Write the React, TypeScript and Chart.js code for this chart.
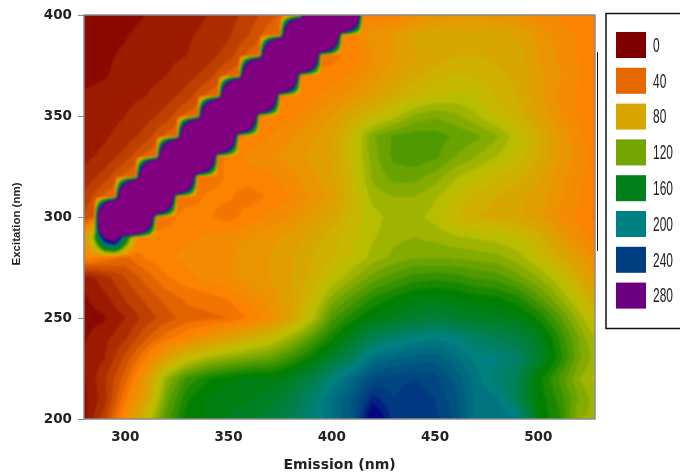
import React, { useEffect, useRef } from "react";
import { Chart, registerables } from "chart.js";

Chart.register(...registerables);

const emission = [280, 290, 300, 310, 320, 330, 340, 350, 360, 370, 380, 390, 400, 410, 420, 430, 440, 450, 460, 470, 480, 490, 500, 510, 520, 530];
const excitation = [400, 390, 380, 370, 360, 350, 340, 330, 320, 310, 300, 290, 280, 270, 260, 250, 240, 230, 220, 210, 200];

const ex400 = [4, 4, 5, 7, 9, 11, 14, 18, 24, 32, 40, 44, 46, 48, 50, 52, 60, 65, 68, 68, 66, 62, 58, 55, 50, 48];
const ex390 = [4, 5, 6.5, 9, 11, 13, 16, 20, 28, 40, 44, 46, 48, 50, 68, 70, 78, 82, 80, 80, 80, 76, 68, 60, 55, 50];
const ex380 = [5, 6, 8, 10, 12, 14, 18, 24, 38, 44, 46, 46, 46, 52, 62, 70, 76, 80, 84, 84, 82, 80, 70, 62, 55, 50];
const ex370 = [5, 6.5, 9, 11, 14, 18, 24, 38, 44, 46, 46, 50, 52, 58, 66, 74, 82, 88, 92, 90, 86, 82, 72, 64, 56, 50];
const ex360 = [8, 9, 12, 14, 18, 24, 38, 44, 46, 46, 50, 54, 60, 66, 74, 84, 92, 98, 100, 98, 90, 84, 72, 62, 54, 50];
const ex350 = [9, 11, 14, 18, 24, 38, 44, 46, 46, 50, 54, 62, 70, 82, 92, 102, 114, 118, 114, 106, 96, 88, 76, 64, 54, 48];
const ex340 = [10, 13, 17, 24, 38, 44, 46, 46, 50, 56, 62, 68, 76, 94, 118, 127, 130, 129, 125, 121, 113, 100, 86, 70, 58, 48];
const ex330 = [12, 16, 24, 38, 44, 46, 46, 50, 58, 62, 66, 72, 78, 96, 116, 128, 131, 128, 119, 112, 105, 96, 84, 70, 60, 48];
const ex320 = [16, 24, 38, 44, 46, 46, 46, 50, 52, 54, 60, 68, 76, 92, 114, 122, 122, 116, 106, 100, 92, 86, 78, 66, 58, 48];
const ex310 = [22, 38, 44, 44, 46, 46, 50, 50, 46, 50, 56, 64, 72, 92, 108, 112, 112, 106, 98, 88, 84, 80, 74, 64, 56, 48];
const ex300 = [30, 40, 44, 44, 46, 52, 50, 46, 52, 58, 62, 72, 80, 92, 102, 108, 108, 102, 92, 84, 82, 78, 72, 62, 54, 46];
const ex290 = [60, 180, 70, 50, 52, 54, 58, 60, 64, 68, 72, 80, 88, 96, 104, 110, 112, 110, 106, 104, 102, 98, 88, 72, 60, 50];
const ex280 = [55, 48, 40, 50, 55, 58, 60, 62, 66, 70, 76, 84, 90, 98, 108, 114, 118, 118, 118, 116, 114, 108, 98, 84, 72, 54];
const ex270 = [10, 18, 28, 38, 48, 54, 58, 62, 66, 70, 76, 86, 98, 110, 122, 130, 136, 138, 136, 132, 130, 122, 112, 100, 82, 66];
const ex260 = [6, 12, 22, 30, 38, 44, 46, 50, 58, 66, 76, 92, 114, 128, 140, 148, 154, 156, 154, 150, 148, 142, 128, 112, 96, 76];
const ex250 = [4, 6, 14, 24, 32, 38, 40, 42, 50, 60, 78, 100, 130, 144, 156, 162, 168, 172, 168, 164, 162, 158, 146, 128, 108, 92];
const ex240 = [6, 12, 20, 34, 46, 56, 66, 76, 86, 96, 110, 128, 146, 164, 182, 192, 198, 202, 198, 188, 182, 176, 162, 140, 118, 100];
const ex230 = [8, 14, 30, 50, 76, 96, 108, 114, 120, 124, 136, 150, 168, 185, 210, 216, 220, 222, 212, 200, 198, 190, 168, 144, 120, 106];
const ex220 = [6, 20, 38, 68, 112, 135, 146, 152, 156, 156, 162, 176, 196, 214, 232, 236, 238, 234, 222, 206, 192, 182, 150, 132, 112, 100];
const ex210 = [5, 18, 48, 76, 122, 146, 155, 158, 160, 165, 175, 190, 210, 225, 248, 238, 242, 238, 226, 208, 205, 180, 152, 138, 118, 106];
const ex200 = [4, 26, 58, 96, 130, 150, 155, 162, 165, 172, 180, 195, 210, 225, 265, 242, 244, 240, 230, 205, 210, 205, 154, 142, 112, 110];

const intensity = [ex400, ex390, ex380, ex370, ex360, ex350, ex340, ex330, ex320, ex310, ex300, ex290, ex280, ex270, ex260, ex250, ex240, ex230, ex220, ex210, ex200];

// Scatter ridge: for each excitation, the two off-scale emission readings (nm) and their height
const ridgeExcitation = [400, 390, 380, 370, 360, 350, 340, 330, 320, 310, 300, 290];
const ridgeFirst = [395, 385, 375, 365, 355, 345, 335, 325, 315, 305, 295, 295];
const ridgeSecond = [405, 395, 385, 375, 365, 355, 345, 335, 325, 315, 305, 295];
const ridgeHeight = [1400, 1400, 1400, 1400, 1400, 1400, 1400, 1400, 1400, 1400, 1400, 220];

const xTicks = [300, 350, 400, 450, 500];
const yTicks = [200, 250, 300, 350, 400];
const legendLevels = [0, 40, 80, 120, 160, 200, 240, 280];

const stopValues = [0, 50, 100, 150, 200, 240, 258, 280, 284];
const stopColors = [
  [128, 0, 0], [255, 128, 0], [191, 191, 0], [0, 128, 0], [0, 128, 128],
  [0, 62, 130], [0, 0, 128], [106, 0, 127], [128, 0, 128],
];

const BAND = 7;

function colorFor(v: number): number[] {
  if (v <= stopValues[0]) return stopColors[0];
  for (let i = 1; i < stopValues.length; i++) {
    if (v <= stopValues[i]) {
      const t = (v - stopValues[i - 1]) / (stopValues[i] - stopValues[i - 1]);
      const a = stopColors[i - 1];
      const b = stopColors[i];
      return [a[0] + (b[0] - a[0]) * t, a[1] + (b[1] - a[1]) * t, a[2] + (b[2] - a[2]) * t];
    }
  }
  return stopColors[stopColors.length - 1];
}

function ridgeNode(em: number, rowEx: number): number {
  const r = ridgeExcitation.indexOf(rowEx);
  if (r < 0) return 0;
  return em === ridgeFirst[r] || em === ridgeSecond[r] ? ridgeHeight[r] : 0;
}

// ridge readings sit on a grid offset by 5 nm in emission
function sampleRidge(em: number, ex: number): number {
  const e0 = Math.floor((em - 5) / 10) * 10 + 5;
  const r0 = Math.floor(ex / 10) * 10;
  const u = (em - e0) / 10;
  const w = (ex - r0) / 10;
  return (
    ridgeNode(e0, r0) * (1 - u) * (1 - w) +
    ridgeNode(e0 + 10, r0) * u * (1 - w) +
    ridgeNode(e0, r0 + 10) * (1 - u) * w +
    ridgeNode(e0 + 10, r0 + 10) * u * w
  );
}

function sample(em: number, ex: number): number {
  const fx = Math.min(emission.length - 1.001, Math.max(0, (em - emission[0]) / 10));
  const fy = Math.min(excitation.length - 1.001, Math.max(0, (excitation[0] - ex) / 10));
  const i = Math.floor(fx);
  const j = Math.floor(fy);
  const u = fx - i;
  const w = fy - j;
  const base =
    intensity[j][i] * (1 - u) * (1 - w) +
    intensity[j][i + 1] * u * (1 - w) +
    intensity[j + 1][i] * (1 - u) * w +
    intensity[j + 1][i + 1] * u * w;
  return base + sampleRidge(em, ex);
}

const contourPlugin = {
  id: "contourFill",
  beforeDatasetsDraw(chart: any) {
    const { ctx, chartArea: a, scales } = chart;
    const w = Math.round(a.right - a.left);
    const h = Math.round(a.bottom - a.top);
    const off = document.createElement("canvas");
    off.width = w;
    off.height = h;
    const oc = off.getContext("2d")!;
    const img = oc.createImageData(w, h);
    for (let py = 0; py < h; py++) {
      const ex = scales.y.getValueForPixel(a.top + py + 0.5);
      for (let px = 0; px < w; px++) {
        const em = scales.x.getValueForPixel(a.left + px + 0.5);
        const v = sample(em, ex);
        const band = v >= 280 ? 300 : Math.floor(v / BAND) * BAND + BAND / 2;
        const c = colorFor(band);
        const k = (py * w + px) * 4;
        img.data[k] = c[0];
        img.data[k + 1] = c[1];
        img.data[k + 2] = c[2];
        img.data[k + 3] = 255;
      }
    }
    oc.putImageData(img, 0, 0);
    ctx.save();
    ctx.beginPath();
    ctx.rect(a.left, a.top, w, h);
    ctx.clip();
    ctx.drawImage(off, a.left, a.top);
    ctx.filter = "blur(0.8px)";
    ctx.drawImage(off, a.left, a.top);
    ctx.restore();
  },
  afterDraw(chart: any) {
    const { ctx, chartArea: a } = chart;
    ctx.save();
    ctx.strokeStyle = "#8a8a8a";
    ctx.lineWidth = 1.5;
    ctx.strokeRect(a.left, a.top, a.right - a.left, a.bottom - a.top);

    // y axis title, slightly below the axis centre
    ctx.save();
    ctx.translate(17, 224);
    ctx.rotate(-Math.PI / 2);
    ctx.fillStyle = "#222";
    ctx.font = "bold 11.5px 'Liberation Sans'";
    ctx.textAlign = "center";
    ctx.textBaseline = "middle";
    ctx.fillText("Excitation (nm)", 0, 0);
    ctx.restore();

    // detached rule beside the plot
    ctx.strokeStyle = "#111";
    ctx.lineWidth = 1;
    ctx.beginPath();
    ctx.moveTo(597.5, 52);
    ctx.lineTo(597.5, 251);
    ctx.stroke();

    // legend box, running off the right edge
    ctx.lineWidth = 1.5;
    ctx.beginPath();
    ctx.moveTo(690, 13.5);
    ctx.lineTo(606, 13.5);
    ctx.lineTo(606, 328.5);
    ctx.lineTo(690, 328.5);
    ctx.stroke();

    legendLevels.forEach((lv, i) => {
      const top = 32 + i * 35.8;
      const c = colorFor(lv);
      ctx.fillStyle = `rgb(${c[0]},${c[1]},${c[2]})`;
      ctx.fillRect(616, top, 30, 26);
      ctx.save();
      ctx.translate(653, top + 14);
      ctx.scale(0.92, 1.6);
      ctx.fillStyle = "#222";
      ctx.font = "13px 'Liberation Sans'";
      ctx.textAlign = "left";
      ctx.textBaseline = "middle";
      ctx.fillText(String(lv), 0, 0);
      ctx.restore();
    });
    ctx.restore();
  },
};

export default function App() {
  const ref = useRef<HTMLCanvasElement>(null);
  useEffect(() => {
    const points: { x: number; y: number }[] = [];
    excitation.forEach((ex) => emission.forEach((em) => points.push({ x: em, y: ex })));
    const chart = new Chart(ref.current!, {
      type: "scatter",
      data: { datasets: [{ label: "Intensity", data: points, pointRadius: 0 }] },
      plugins: [contourPlugin],
      options: {
        animation: false,
        responsive: false,
        layout: { padding: { left: 0, top: 15, right: 85, bottom: 0 } },
        plugins: { legend: { display: false }, tooltip: { enabled: false } },
        scales: {
          x: {
            type: "linear",
            min: 280,
            max: 527.5,
            afterBuildTicks: (s: any) => { s.ticks = xTicks.map((value) => ({ value })); },
            afterFit: (s: any) => { s.height = 55; },
            grid: { display: false, drawTicks: true, tickLength: 6, tickColor: "#8a8a8a", drawOnChartArea: false },
            border: { display: false },
            ticks: { color: "#222", maxRotation: 0, padding: 4, autoSkip: false, font: { family: "'DejaVu Sans'", weight: "bold", size: 13.5 } },
            title: { display: true, text: "Emission (nm)", color: "#222", padding: { top: 4, bottom: 0 }, font: { family: "'DejaVu Sans'", weight: "bold", size: 14 } },
          },
          y: {
            type: "linear",
            min: 200,
            max: 400,
            afterBuildTicks: (s: any) => { s.ticks = yTicks.map((value) => ({ value })); },
            afterFit: (s: any) => { s.width = 84; },
            grid: { display: true, tickLength: 6, tickColor: "#8a8a8a", drawOnChartArea: false },
            border: { display: false },
            ticks: { color: "#222", padding: 6, autoSkip: false, font: { family: "'DejaVu Sans'", weight: "bold", size: 13.5 } },
            title: { display: false },
          },
        },
      },
    } as any);
    return () => chart.destroy();
  }, []);
  return (
    <div style={{ position: "fixed", left: 0, top: 0, width: 680, height: 474, background: "#fff" }}>
      <canvas ref={ref} width={680} height={474} style={{ display: "block" }} />
    </div>
  );
}
